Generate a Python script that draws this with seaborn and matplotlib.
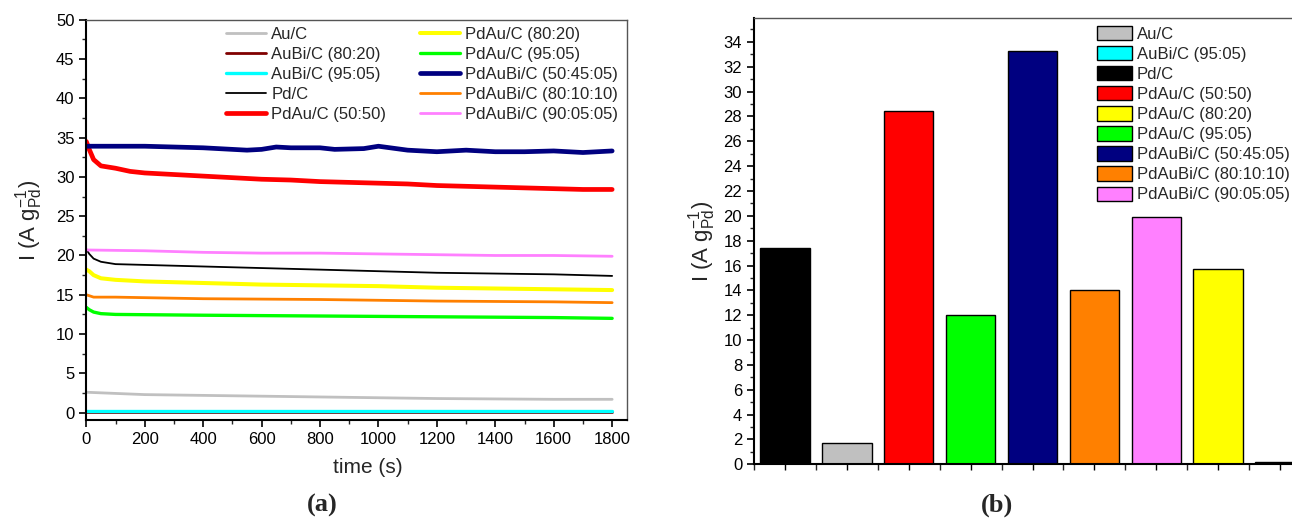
import matplotlib
matplotlib.use("Agg")
import matplotlib.pyplot as plt
import pandas as pd
import seaborn as sns
from matplotlib.ticker import MultipleLocator
from matplotlib.patches import Patch

# chronoamperometry curves (a): time (s) and current (A g_Pd^-1)
t_aubi = [0, 1800]
i_aubi8020 = [0.1, 0.1]
i_aubi9505 = [0.2, 0.2]

t_au = [0, 200, 400, 800, 1200, 1600, 1800]
i_au = [2.6, 2.3, 2.2, 2.0, 1.8, 1.7, 1.7]

t_pd = [0, 10, 25, 50, 100, 200, 400, 600, 800, 1000, 1200, 1400, 1600, 1800]
i_pd = [20.8, 20.2, 19.6, 19.2, 18.9, 18.8, 18.6, 18.4, 18.2, 18.0, 17.8, 17.7, 17.6, 17.4]

t_pdau5050 = [0, 10, 25, 50, 100, 150, 200, 300, 400, 500, 600, 700, 800, 900,
              1000, 1100, 1200, 1300, 1400, 1500, 1600, 1700, 1800]
i_pdau5050 = [34.5, 33.5, 32.2, 31.4, 31.1, 30.7, 30.5, 30.3, 30.1, 29.9, 29.7, 29.6, 29.4, 29.3,
              29.2, 29.1, 28.9, 28.8, 28.7, 28.6, 28.5, 28.4, 28.4]

t_pdau8020 = [0, 10, 25, 50, 100, 200, 400, 600, 800, 1000, 1200, 1400, 1600, 1800]
i_pdau8020 = [18.2, 18.0, 17.5, 17.1, 16.9, 16.7, 16.5, 16.3, 16.2, 16.1, 15.9, 15.8, 15.7, 15.6]

t_pdau9505 = [0, 10, 25, 50, 100, 400, 800, 1200, 1600, 1800]
i_pdau9505 = [13.4, 13.1, 12.8, 12.6, 12.5, 12.4, 12.3, 12.2, 12.1, 12.0]

t_pdaubi504505 = [0, 200, 400, 550, 600, 650, 700, 800, 850, 950, 1000, 1020, 1100,
                  1200, 1300, 1400, 1500, 1600, 1700, 1800]
i_pdaubi504505 = [33.9, 33.9, 33.7, 33.4, 33.5, 33.8, 33.7, 33.7, 33.5, 33.6, 33.9, 33.8, 33.4,
                  33.2, 33.4, 33.2, 33.2, 33.3, 33.1, 33.3]

t_pdaubi801010 = [0, 25, 100, 400, 800, 1200, 1600, 1800]
i_pdaubi801010 = [15.0, 14.7, 14.7, 14.5, 14.4, 14.2, 14.1, 14.0]

t_pdaubi900505 = [0, 200, 400, 600, 800, 1000, 1200, 1400, 1600, 1800]
i_pdaubi900505 = [20.7, 20.6, 20.4, 20.3, 20.3, 20.2, 20.1, 20.0, 20.0, 19.9]

# final currents (b)
bar_names = ["Pd/C", "Au/C", "PdAu/C (50:50)", "PdAu/C (95:05)", "PdAuBi/C (50:45:05)",
             "PdAuBi/C (80:10:10)", "PdAuBi/C (90:05:05)", "PdAu/C (80:20)", "AuBi/C (95:05)"]
bar_values = [17.4, 1.7, 28.4, 12.0, 33.3, 14.0, 19.9, 15.7, 0.2]
bar_legend_order = ["Au/C", "AuBi/C (95:05)", "Pd/C", "PdAu/C (50:50)", "PdAu/C (80:20)",
                    "PdAu/C (95:05)", "PdAuBi/C (50:45:05)", "PdAuBi/C (80:10:10)",
                    "PdAuBi/C (90:05:05)"]

colors = {
    "Au/C": "#c0c0c0",
    "AuBi/C (80:20)": "#800000",
    "AuBi/C (95:05)": "#00ffff",
    "Pd/C": "#000000",
    "PdAu/C (50:50)": "#ff0000",
    "PdAu/C (80:20)": "#ffff00",
    "PdAu/C (95:05)": "#00ff00",
    "PdAuBi/C (50:45:05)": "#000080",
    "PdAuBi/C (80:10:10)": "#ff8000",
    "PdAuBi/C (90:05:05)": "#ff80ff",
}

curves = [
    ("Au/C", t_au, i_au, 2.0),
    ("AuBi/C (80:20)", t_aubi, i_aubi8020, 2.0),
    ("AuBi/C (95:05)", t_aubi, i_aubi9505, 2.4),
    ("Pd/C", t_pd, i_pd, 1.3),
    ("PdAu/C (50:50)", t_pdau5050, i_pdau5050, 3.4),
    ("PdAu/C (80:20)", t_pdau8020, i_pdau8020, 2.9),
    ("PdAu/C (95:05)", t_pdau9505, i_pdau9505, 2.4),
    ("PdAuBi/C (50:45:05)", t_pdaubi504505, i_pdaubi504505, 3.4),
    ("PdAuBi/C (80:10:10)", t_pdaubi801010, i_pdaubi801010, 2.0),
    ("PdAuBi/C (90:05:05)", t_pdaubi900505, i_pdaubi900505, 2.0),
]

sns.set_style("ticks")
plt.rcParams["font.family"] = ["Liberation Sans", "DejaVu Sans"]
plt.rcParams["mathtext.fontset"] = "custom"
plt.rcParams["mathtext.rm"] = "Liberation Sans"
plt.rcParams["mathtext.it"] = "Liberation Sans:italic"

fig = plt.figure(figsize=(12.92, 5.18), dpi=100)
ax1 = fig.add_axes([0.0668, 0.1886, 0.4183, 0.7734])
ax2 = fig.add_axes([0.5836, 0.1037, 0.4311, 0.8610])

ylab = r"I (A g$_{\mathrm{Pd}}^{-1}$)"

# (a) lines
for name, t, i, lw in curves:
    df = pd.DataFrame({"t": t, "i": i})
    sns.lineplot(data=df, x="t", y="i", ax=ax1, color=colors[name], lw=lw, label=name)

ax1.set_xlim(0, 1850)
ax1.set_ylim(-0.97, 50)
ax1.xaxis.set_major_locator(MultipleLocator(200))
ax1.xaxis.set_minor_locator(MultipleLocator(100))
ax1.yaxis.set_major_locator(MultipleLocator(5))
ax1.yaxis.set_minor_locator(MultipleLocator(2.5))
ax1.set_xticks(range(0, 1801, 200))
ax1.set_xlabel("time (s)", fontsize=15, labelpad=4)
ax1.xaxis.set_label_coords(0.52, -0.095)
ax1.set_ylabel(ylab, fontsize=16, labelpad=8)
ax1.legend(ncol=2, frameon=False, fontsize=12, loc="upper left",
           bbox_to_anchor=(0.259, 0.982), borderaxespad=0, borderpad=0,
           handlelength=2.4, labelspacing=0.3, columnspacing=2.0, handletextpad=0.3)

# (b) bars
bdf = pd.DataFrame({"name": bar_names, "value": bar_values})
sns.barplot(data=bdf, x="name", y="value", hue="name", palette=colors, ax=ax2,
            width=0.8, saturation=1, edgecolor="black", linewidth=1.0, legend=False)
ax2.set_xlim(-0.5, 8.5)
ax2.set_ylim(0, 35.9)
ax2.set_xticks(range(len(bar_names)))
ax2.set_xticklabels([])
ax2.xaxis.set_minor_locator(MultipleLocator(0.5))
ax2.yaxis.set_major_locator(MultipleLocator(2))
ax2.yaxis.set_minor_locator(MultipleLocator(1))
ax2.set_xlabel("")
ax2.set_ylabel(ylab, fontsize=16, labelpad=4)
handles = [Patch(facecolor=colors[n], edgecolor="black", label=n) for n in bar_legend_order]
ax2.legend(handles=handles, frameon=False, fontsize=12, loc="upper left",
           bbox_to_anchor=(0.616, 0.983), borderaxespad=0, borderpad=0,
           handlelength=2.1, handleheight=0.95, labelspacing=0.25, handletextpad=0.3)

for ax in (ax1, ax2):
    ax.tick_params(axis="both", which="major", direction="out", length=5, width=1.2,
                   labelsize=12, colors="black")
    ax.tick_params(axis="both", which="minor", direction="out", length=3, width=1.0)
    ax.tick_params(top=False, right=False)
    for s in ("left", "bottom"):
        ax.spines[s].set_linewidth(1.5)
        ax.spines[s].set_color("black")
    for s in ("top", "right"):
        ax.spines[s].set_visible(True)
        ax.spines[s].set_linewidth(1.0)
        ax.spines[s].set_color("#555555")
ax2.tick_params(axis="x", which="both", length=4, width=1.0)

fig.text(0.2497, 0.025, "(a)", fontsize=19, fontweight="bold", family="Liberation Serif",
         ha="center", va="center")
fig.text(0.7717, 0.025, "(b)", fontsize=19, fontweight="bold", family="Liberation Serif",
         ha="center", va="center")

fig.savefig("out.png", dpi=100)
